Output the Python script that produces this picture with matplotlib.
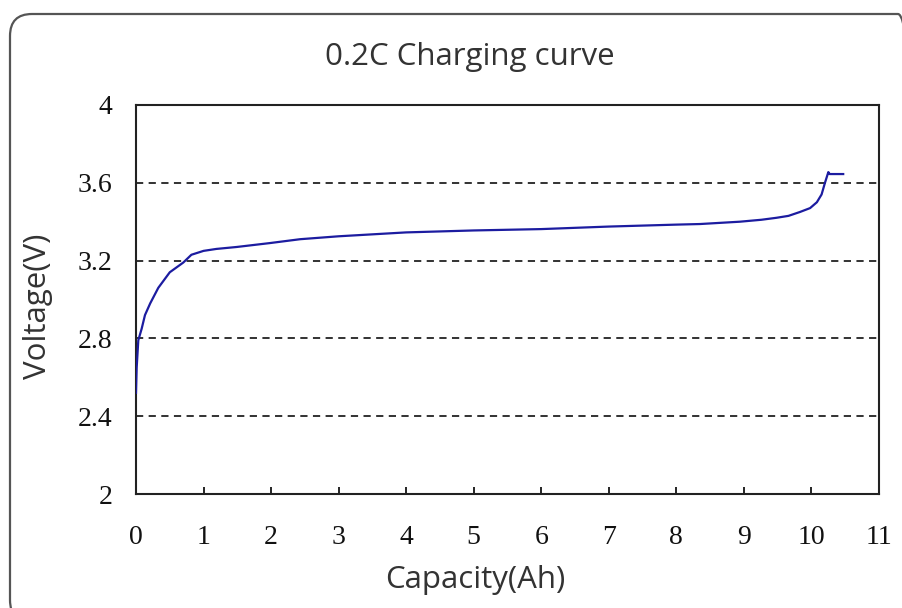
import matplotlib
matplotlib.use("Agg")
import matplotlib.pyplot as plt
from matplotlib.patches import FancyBboxPatch

title = "0.2C Charging curve"
x_label = "Capacity(Ah)"
y_label = "Voltage(V)"

capacity = [0.0, 0.01, 0.034, 0.084, 0.133, 0.21, 0.33, 0.50, 0.70, 0.82, 1.0,
            1.19, 1.49, 1.98, 2.43, 3.0, 3.5, 4.0, 5.0, 6.0, 7.0, 8.0, 8.35, 8.94,
            9.26, 9.48, 9.66, 9.83, 9.98, 10.08, 10.15, 10.20, 10.25, 10.27, 10.47]
voltage = [2.52, 2.65, 2.79, 2.85, 2.92, 2.98, 3.06, 3.14, 3.19, 3.23, 3.25,
           3.26, 3.27, 3.29, 3.31, 3.325, 3.335, 3.345, 3.355, 3.362, 3.375, 3.385,
           3.388, 3.40, 3.41, 3.42, 3.43, 3.45, 3.47, 3.50, 3.54, 3.60, 3.655,
           3.645, 3.645]

x_ticks = [0, 1, 2, 3, 4, 5, 6, 7, 8, 9, 10, 11]
y_ticks = [2, 2.4, 2.8, 3.2, 3.6, 4]
y_tick_labels = ["2", "2.4", "2.8", "3.2", "3.6", "4"]
grid_levels = [2.4, 2.8, 3.2, 3.6]

fig = plt.figure(figsize=(9.03, 6.08), dpi=100)
ax = fig.add_axes([136/903, 1-494/608, (879-136)/903, (494-105)/608])

frame = FancyBboxPatch((10, -14), 910, 608, boxstyle="round,pad=0,rounding_size=22",
                       transform=None, fill=False, edgecolor="#555555", linewidth=1.6,
                       zorder=0)
fig.patches.append(frame)

for g in grid_levels:
    ax.axhline(g, color="#222222", linestyle=(0, (4, 3)), linewidth=1.3, zorder=1)

ax.plot(capacity, voltage, color="#1c1ca0", linewidth=1.6, zorder=3)

ax.set_xlim(0, 11)
ax.set_ylim(2, 4)
ax.set_xticks(x_ticks)
ax.set_yticks(y_ticks)
ax.set_yticklabels(y_tick_labels)

serif = "Liberation Serif"
for lab in ax.get_xticklabels() + ax.get_yticklabels():
    lab.set_fontfamily(serif)
    lab.set_fontsize(20)
    lab.set_color("#111111")

ax.tick_params(axis="x", direction="in", length=5, width=1.2, pad=22)
ax.tick_params(axis="y", length=0, pad=17)
for s in ax.spines.values():
    s.set_linewidth(1.5)
    s.set_color("#222222")

fig.text(470/903, 1-57/608, title, fontfamily="Open Sans", fontsize=22.5,
         color="#333333", ha="center", va="center")
ax.set_xlabel(x_label, fontfamily="Open Sans", fontsize=22.5, color="#333333")
ax.xaxis.set_label_coords((475-136)/743, -(580-494)/389)
ax.xaxis.label.set_va("center")
ax.set_ylabel(y_label, fontfamily="Open Sans", fontsize=22.5, color="#333333")
ax.yaxis.set_label_coords(-(136-38)/743, (494-306)/389)
ax.yaxis.label.set_va("center")

fig.savefig("out.png", dpi=100)
